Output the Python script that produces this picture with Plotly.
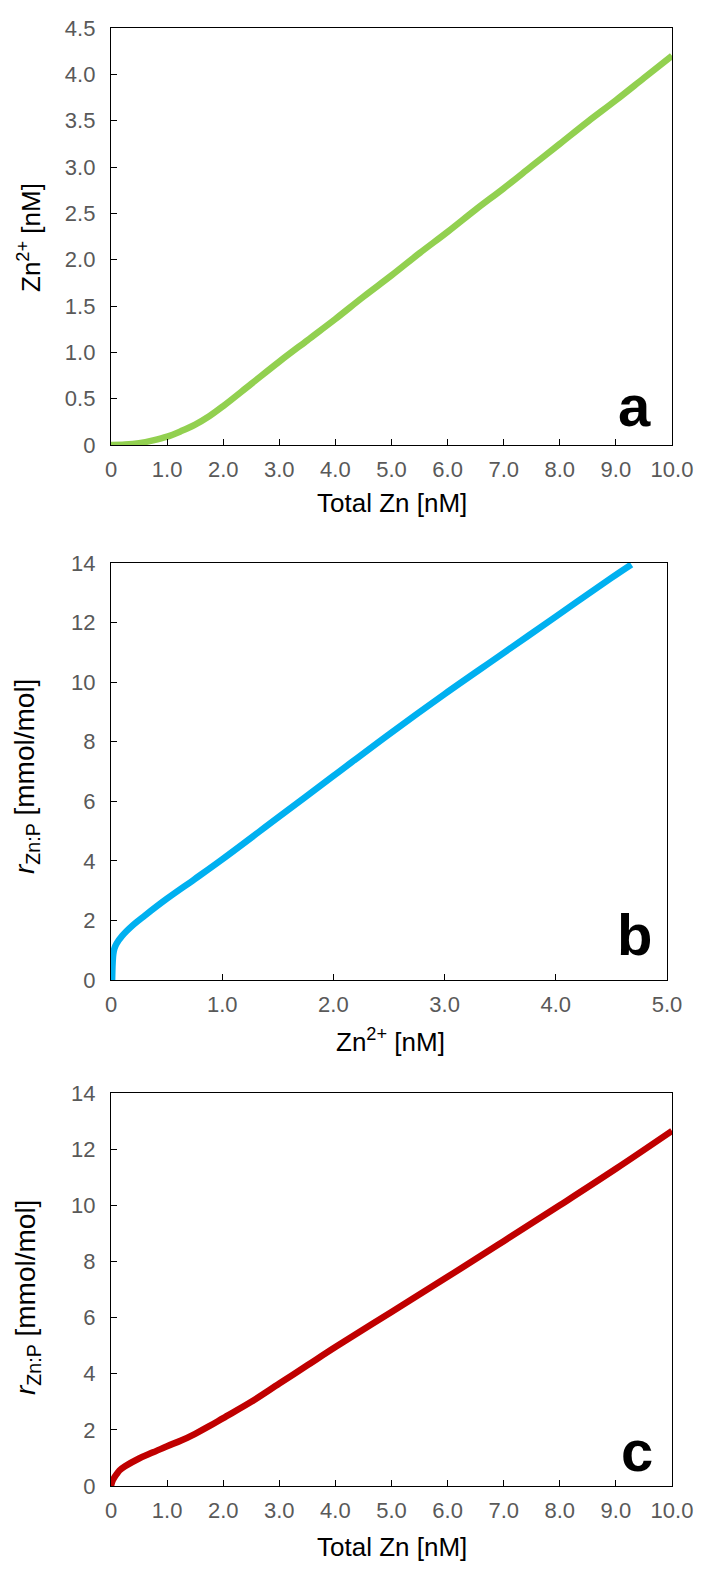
import plotly.graph_objects as go

# Panel a: Zn2+ vs total Zn
a_x = [0, 0.25, 0.5, 0.75, 1.0, 1.25, 1.5, 1.75, 2.0, 2.5, 3.0, 3.5, 4.0, 4.5, 5.0,
       5.5, 6.0, 6.5, 7.0, 7.5, 8.0, 8.5, 9.0, 9.5, 10.0]
a_y = [0, 0.005, 0.02, 0.05, 0.09, 0.15, 0.22, 0.31, 0.42, 0.66, 0.90, 1.13, 1.36, 1.60,
       1.83, 2.07, 2.30, 2.54, 2.77, 3.01, 3.25, 3.49, 3.72, 3.96, 4.20]

# Panel b: r_Zn:P vs Zn2+
b_x = [0.01, 0.012, 0.015, 0.02, 0.03, 0.05, 0.1, 0.2, 0.3, 0.5, 0.75, 1.0, 1.5, 2.0,
       2.5, 3.0, 3.5, 4.0, 4.5, 4.68]
b_y = [0, 0.3, 0.6, 0.85, 1.05, 1.22, 1.48, 1.85, 2.15, 2.72, 3.38, 4.05, 5.45, 6.85,
       8.25, 9.6, 10.9, 12.2, 13.5, 13.95]

# Panel c: r_Zn:P vs total Zn
c_x = [0, 0.02, 0.05, 0.1, 0.15, 0.25, 0.5, 0.75, 1.0, 1.25, 1.5, 1.75, 2.0, 2.5, 3.0,
       3.5, 4.0, 5.0, 6.0, 7.0, 8.0, 9.0, 10.0]
c_y = [0, 0.15, 0.27, 0.42, 0.55, 0.70, 0.98, 1.20, 1.42, 1.62, 1.86, 2.13, 2.42, 3.0,
       3.65, 4.3, 4.95, 6.2, 7.45, 8.72, 10.0, 11.3, 12.65]

x_ticks_total = [0, 1, 2, 3, 4, 5, 6, 7, 8, 9, 10]
x_text_total = ["0", "1.0", "2.0", "3.0", "4.0", "5.0", "6.0", "7.0", "8.0", "9.0", "10.0"]
y_ticks_a = [0, 0.5, 1.0, 1.5, 2.0, 2.5, 3.0, 3.5, 4.0, 4.5]
y_text_a = ["0", "0.5", "1.0", "1.5", "2.0", "2.5", "3.0", "3.5", "4.0", "4.5"]
x_ticks_b = [0, 1, 2, 3, 4, 5]
x_text_b = ["0", "1.0", "2.0", "3.0", "4.0", "5.0"]
y_ticks_r = [0, 2, 4, 6, 8, 10, 12, 14]
y_text_r = ["0", "2", "4", "6", "8", "10", "12", "14"]

W, H = 704, 1595
FONT = "Liberation Sans, Arial, sans-serif"
TICKCOL = "#595959"

def px(x):
    return x / W

def py(y):
    return 1 - y / H

fig = go.Figure()
fig.add_trace(go.Scatter(x=a_x, y=a_y, mode="lines", line=dict(color="#92D050", width=6.5, shape="spline"),
                         xaxis="x", yaxis="y", showlegend=False))
fig.add_trace(go.Scatter(x=b_x, y=b_y, mode="lines", line=dict(color="#00B0F0", width=6.5, shape="spline"),
                         xaxis="x2", yaxis="y2", showlegend=False))
fig.add_trace(go.Scatter(x=c_x, y=c_y, mode="lines", line=dict(color="#C00000", width=6.5, shape="spline"),
                         xaxis="x3", yaxis="y3", showlegend=False))

common = dict(showline=True, linecolor="black", linewidth=1.3, mirror=True, ticks="inside",
              ticklen=6, tickwidth=1.3, tickcolor="black", showgrid=False, zeroline=False,
              automargin=False, tickfont=dict(family=FONT, size=22, color=TICKCOL))

fig.update_layout(
    width=W, height=H, margin=dict(l=0, r=0, t=0, b=0, autoexpand=False),
    paper_bgcolor="white", plot_bgcolor="white",
    xaxis=dict(domain=[px(111), px(672)], range=[0, 10], tickvals=x_ticks_total, ticktext=x_text_total,
               anchor="y", ticklabelstandoff=4, **common),
    yaxis=dict(domain=[py(445), py(28)], range=[0, 4.5], tickvals=y_ticks_a, ticktext=y_text_a,
               anchor="x", ticklabelstandoff=10, **common),
    xaxis2=dict(domain=[px(111), px(667)], range=[0, 5], tickvals=x_ticks_b, ticktext=x_text_b,
                anchor="y2", ticklabelstandoff=4, **common),
    yaxis2=dict(domain=[py(980), py(563)], range=[0, 14], tickvals=y_ticks_r, ticktext=y_text_r,
                anchor="x2", ticklabelstandoff=10, **common),
    xaxis3=dict(domain=[px(111), px(672)], range=[0, 10], tickvals=x_ticks_total, ticktext=x_text_total,
                anchor="y3", ticklabelstandoff=4, **common),
    yaxis3=dict(domain=[py(1486), py(1093)], range=[0, 14], tickvals=y_ticks_r, ticktext=y_text_r,
                anchor="x3", ticklabelstandoff=10, **common),
)

title_font = dict(family=FONT, size=26, color="black")
r_font = dict(family=FONT, size=28, color="black")
ann = []
# x titles
ann.append(dict(x=px(392), y=py(503), text="Total Zn [nM]", font=title_font))
ann.append(dict(x=px(390), y=py(1040), text="Zn<sup>2+</sup> [nM]", font=title_font))
ann.append(dict(x=px(392), y=py(1547), text="Total Zn [nM]", font=title_font))
# y titles
ann.append(dict(x=px(30), y=py(237), text="Zn<sup>2+</sup> [nM]", font=title_font, textangle=-90))
ann.append(dict(x=px(27), y=py(777), text="<i>r</i><sub>Zn:P</sub> [mmol/mol]", font=r_font, textangle=-90))
ann.append(dict(x=px(27), y=py(1298), text="<i>r</i><sub>Zn:P</sub> [mmol/mol]", font=r_font, textangle=-90))
# panel letters
letter_font = dict(family=FONT, size=58, color="black", weight="bold")
ann.append(dict(x=px(634), y=py(406), text="<b>a</b>", font=letter_font))
ann.append(dict(x=px(634), y=py(935), text="<b>b</b>", font=letter_font))
ann.append(dict(x=px(637), y=py(1450), text="<b>c</b>", font=letter_font))

for a in ann:
    a.update(xref="paper", yref="paper", xanchor="center", yanchor="middle", showarrow=False)
fig.update_layout(annotations=ann)

fig.write_html("out.html")
